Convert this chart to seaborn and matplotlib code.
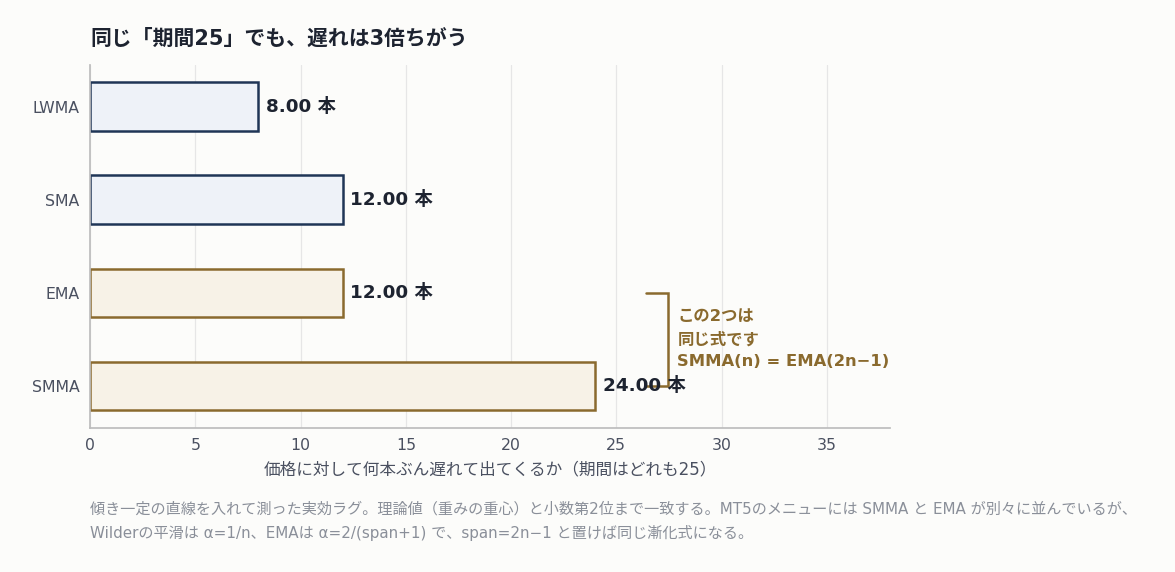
import numpy as np
import pandas as pd
import matplotlib
matplotlib.use('Agg')
import matplotlib.pyplot as plt
import seaborn as sns

# データ
metodos = ['LWMA', 'SMA', 'EMA', 'SMMA']
atraso = [8.00, 12.00, 12.00, 24.00]
grupo = ['navy', 'navy', 'gold', 'gold']

Base = pd.DataFrame({'MA': metodos, 'Lag': atraso, 'Grupo': grupo})

sns.set_theme(style='whitegrid')
plt.rcParams['font.family'] = ['DejaVu Sans', 'Noto Sans CJK JP']

fundo = '#fcfcfa'
cor_borda = {'navy': '#1f3556', 'gold': '#8a6a2e'}
cor_fill = {'navy': '#eef2f8', 'gold': '#f7f2e7'}

fig = plt.figure(figsize=(11.75, 5.72), dpi=100, facecolor=fundo)
ax = fig.add_axes([0.0766, 0.252, 0.6809, 0.635])
ax.set_facecolor(fundo)

sns.barplot(data=Base, x='Lag', y='MA', order=metodos, ax=ax,
            width=0.52, color='white', linewidth=1.8)
for barra, g in zip(ax.patches, grupo):
    barra.set_facecolor(cor_fill[g])
    barra.set_edgecolor(cor_borda[g])

for i, v in enumerate(atraso):
    ax.text(v + 0.35, i, f'{v:.2f} 本', va='center', ha='left',
            fontsize=13.2, fontweight='bold', color='#1d2330')

# bracket EMA - SMMA
marrom = '#8a6a2e'
ax.plot([26.4, 27.45, 27.45, 26.4], [2, 2, 3, 3], color=marrom, lw=1.8,
        solid_joinstyle='miter', clip_on=False)
ax.text(27.9, 2.5, 'この2つは\n同じ式です\nSMMA(n) = EMA(2n−1)', ha='left', va='center',
        fontsize=11.8, fontweight='bold', color=marrom, linespacing=1.6)

ax.set_xlim(0, 38)
ax.set_ylim(3.45, -0.45)
ax.set_xticks(range(0, 40, 5))
ax.grid(axis='x', color='#e6e6e6', lw=0.9)
ax.grid(axis='y', visible=False)
for lado in ['top', 'right']:
    ax.spines[lado].set_visible(False)
ax.spines['left'].set_color('#bdbdbd')
ax.spines['bottom'].set_color('#bdbdbd')
ax.tick_params(axis='both', colors='#4a5060', labelsize=11.3, length=4)
ax.tick_params(axis='y', length=4, color='#999999')
ax.tick_params(axis='x', length=4, color='#999999')
ax.set_ylabel('')
ax.set_xlabel('価格に対して何本ぶん遅れて出てくるか（期間はどれも25）', fontsize=12,
              color='#4a5060', labelpad=5)

fig.text(0.0766, 0.915, '同じ「期間25」でも、遅れは3倍ちがう', fontsize=15,
         fontweight='bold', color='#1d2330', ha='left', va='bottom')

fig.text(0.0766, 0.055,
         '傾き一定の直線を入れて測った実効ラグ。理論値（重みの重心）と小数第2位まで一致する。MT5のメニューには SMMA と EMA が別々に並んでいるが、\n'
         'Wilderの平滑は α=1/n、EMAは α=2/(span+1) で、span=2n−1 と置けば同じ漸化式になる。',
         fontsize=10.9, color='#8a8f99', ha='left', va='bottom', linespacing=1.6)

fig.savefig('out.png', dpi=100, facecolor=fundo)
